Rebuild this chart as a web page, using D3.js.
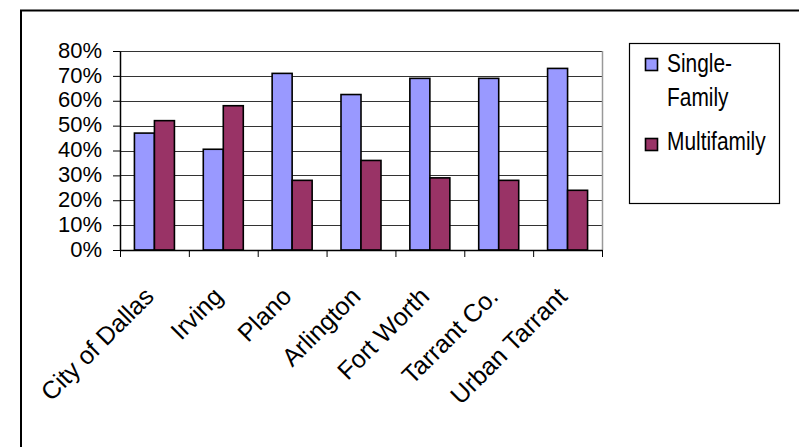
<!DOCTYPE html>
<html>
<head>
<meta charset="utf-8">
<script src="https://cdn.jsdelivr.net/npm/d3@7"></script>
<style>
  html, body { margin: 0; padding: 0; background: #fff; }
  svg { display: block; font-family: "Liberation Sans", Arial, sans-serif; }
</style>
</head>
<body>
<svg id="chart" width="799" height="447"></svg>
<script>
// Housing type share by area
const categories = ["City of Dallas", "Irving", "Plano", "Arlington", "Fort Worth", "Tarrant Co.", "Urban Tarrant"];
const singleFamily = [0.47, 0.405, 0.71, 0.625, 0.69, 0.69, 0.73];
const multifamily = [0.52, 0.58, 0.28, 0.36, 0.29, 0.28, 0.24];
const seriesNames = ["Single-Family", "Multifamily"];
const yTicks = [0, 0.1, 0.2, 0.3, 0.4, 0.5, 0.6, 0.7, 0.8];

const colors = ["#9999FF", "#993366"];
const series = [singleFamily, multifamily];

const svg = d3.select("#chart");

// outer chart frame (open to the right and bottom)
svg.append("path")
  .attr("d", "M21,447 L21,10.5 L799,10.5")
  .attr("fill", "none").attr("stroke", "#000").attr("stroke-width", 2);

const plot = { left: 120, right: 602, top: 51, bottom: 250 };

const x = d3.scaleBand().domain(categories).range([plot.left, plot.right]).paddingInner(0).paddingOuter(0);
const y = d3.scaleLinear().domain([0, 0.8]).range([plot.bottom, plot.top]);
const inner = d3.scaleBand().domain([0, 1]).range([0, 40]);

// gridlines
svg.append("g").selectAll("line").data(yTicks.slice(1)).join("line")
  .attr("x1", plot.left).attr("x2", plot.right)
  .attr("y1", d => Math.round(y(d)) + 0.5).attr("y2", d => Math.round(y(d)) + 0.5)
  .attr("stroke", "#333").attr("stroke-width", 1);

// plot area right edge
svg.append("line")
  .attr("x1", plot.right + 0.5).attr("x2", plot.right + 0.5)
  .attr("y1", plot.top).attr("y2", plot.bottom)
  .attr("stroke", "#999").attr("stroke-width", 1.5);

// bars
const groups = svg.append("g").selectAll("g").data(categories).join("g")
  .attr("transform", d => `translate(${x(d) + (x.bandwidth() - 40) / 2},0)`);
groups.selectAll("rect")
  .data((d, i) => series.map((s, k) => ({ k, v: s[i] })))
  .join("rect")
  .attr("x", d => inner(d.k))
  .attr("width", inner.bandwidth())
  .attr("y", d => y(d.v))
  .attr("height", d => y(0) - y(d.v))
  .attr("fill", d => colors[d.k])
  .attr("stroke", "#000").attr("stroke-width", 1.6);

// y axis
const yAxis = d3.axisLeft(y).tickValues(yTicks).tickFormat(d3.format(".0%")).tickSize(7).tickSizeOuter(0);
const gy = svg.append("g").attr("transform", `translate(${plot.left},0)`).call(yAxis);
gy.select(".domain").attr("stroke", "#000").attr("stroke-width", 1.5);
gy.selectAll(".tick line").attr("stroke", "#000").attr("stroke-width", 1);
gy.selectAll(".tick text").attr("x", -18).attr("dy", "0.28em").attr("font-size", 22).attr("fill", "#000")
  .attr("font-family", "'Liberation Sans', Arial, sans-serif");

// x axis
const xAxis = d3.axisBottom(x).tickSize(0).tickFormat("");
const gx = svg.append("g").attr("transform", `translate(0,${plot.bottom})`).call(xAxis);
gx.select(".domain").attr("stroke", "#000").attr("stroke-width", 1.5);
gx.selectAll(".tick").remove();
svg.append("g").selectAll("line").data(d3.range(categories.length + 1)).join("line")
  .attr("x1", i => plot.left + i * x.step() + 0.5).attr("x2", i => plot.left + i * x.step() + 0.5)
  .attr("y1", plot.bottom).attr("y2", plot.bottom + 7)
  .attr("stroke", "#000").attr("stroke-width", 1);

// category labels, rotated
svg.append("g").selectAll("text").data(categories).join("text")
  .attr("transform", d => `translate(${x(d) + x.bandwidth() / 2 + 1},${plot.bottom + 48}) rotate(-45)`)
  .attr("text-anchor", "end")
  .attr("font-size", 25)
  .attr("fill", "#000")
  .text(d => d);

// legend
const lg = svg.append("g");
lg.append("rect").attr("x", 629.5).attr("y", 43.5).attr("width", 150).attr("height", 160)
  .attr("fill", "#fff").attr("stroke", "#000").attr("stroke-width", 1.2);
const legendRows = [
  { lines: ["Single-", "Family"], sy: 58, ty: 72 },
  { lines: ["Multifamily"], sy: 138, ty: 150 }
];
legendRows.forEach((r, i) => {
  lg.append("rect").attr("x", 645.5).attr("y", r.sy + 0.5).attr("width", 12).attr("height", 12)
    .attr("fill", colors[i]).attr("stroke", "#000").attr("stroke-width", 1.6);
  r.lines.forEach((t, j) => {
    lg.append("text")
      .attr("transform", `translate(667,${r.ty + j * 34}) scale(0.82,1)`)
      .attr("font-size", 25.5).attr("fill", "#000").text(t);
  });
});
</script>
</body>
</html>
